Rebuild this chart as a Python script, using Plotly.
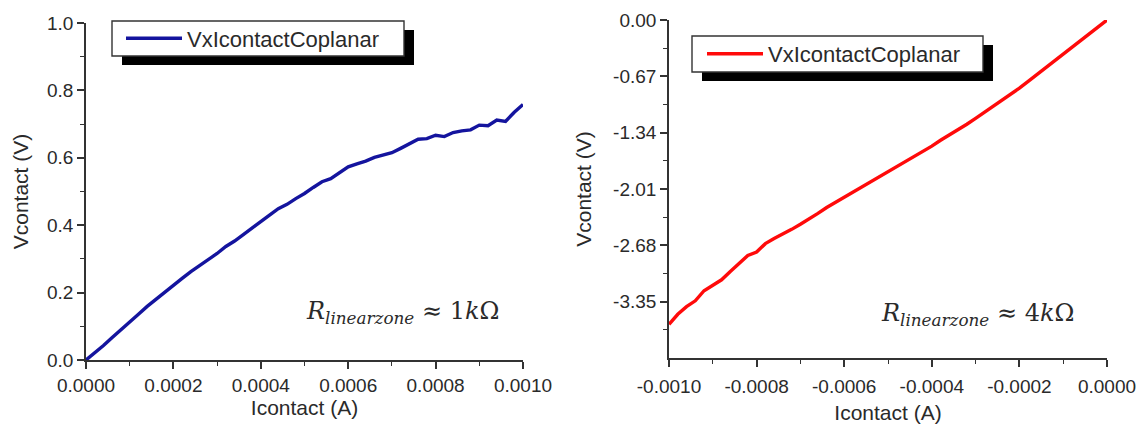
import plotly.graph_objects as go

# ---------------- data ----------------
left_current = [0.00000, 0.00002, 0.00004, 0.00006, 0.00008, 0.00010, 0.00012, 0.00014, 0.00016, 0.00018,
                0.00020, 0.00022, 0.00024, 0.00026, 0.00028, 0.00030, 0.00032, 0.00034, 0.00036, 0.00038,
                0.00040, 0.00042, 0.00044, 0.00046, 0.00048, 0.00050, 0.00052, 0.00054, 0.00056, 0.00058,
                0.00060, 0.00062, 0.00064, 0.00066, 0.00068, 0.00070, 0.00072, 0.00074, 0.00076, 0.00078,
                0.00080, 0.00082, 0.00084, 0.00086, 0.00088, 0.00090, 0.00092, 0.00094, 0.00096, 0.00098,
                0.00100]
left_voltage = [0.000, 0.020, 0.043, 0.067, 0.091, 0.114, 0.136, 0.159, 0.180, 0.203,
                0.222, 0.242, 0.262, 0.279, 0.299, 0.316, 0.337, 0.353, 0.372, 0.392,
                0.413, 0.430, 0.449, 0.462, 0.479, 0.494, 0.512, 0.529, 0.538, 0.556,
                0.573, 0.582, 0.590, 0.601, 0.607, 0.615, 0.628, 0.641, 0.655, 0.657,
                0.667, 0.663, 0.675, 0.680, 0.683, 0.697, 0.695, 0.712, 0.708, 0.735,
                0.758]

right_current = [-0.00100, -0.00098, -0.00096, -0.00094, -0.00092, -0.00090, -0.00088, -0.00086, -0.00084, -0.00082,
                 -0.00080, -0.00078, -0.00076, -0.00074, -0.00072, -0.00070, -0.00068, -0.00066, -0.00064, -0.00062,
                 -0.00060, -0.00058, -0.00056, -0.00054, -0.00052, -0.00050, -0.00048, -0.00046, -0.00044, -0.00042,
                 -0.00040, -0.00038, -0.00036, -0.00034, -0.00032, -0.00030, -0.00028, -0.00026, -0.00024, -0.00022,
                 -0.00020, -0.00018, -0.00016, -0.00014, -0.00012, -0.00010, -0.00008, -0.00006, -0.00004, -0.00002,
                 0.00000]
right_voltage = [-3.62, -3.50, -3.41, -3.34, -3.22, -3.16, -3.09, -2.99, -2.90, -2.80,
                 -2.76, -2.66, -2.60, -2.55, -2.49, -2.43, -2.37, -2.30, -2.23, -2.17,
                 -2.10, -2.04, -1.98, -1.93, -1.86, -1.80, -1.74, -1.68, -1.62, -1.56,
                 -1.50, -1.43, -1.37, -1.30, -1.24, -1.17, -1.10, -1.03, -0.96, -0.88,
                 -0.81, -0.73, -0.65, -0.57, -0.49, -0.40, -0.32, -0.24, -0.16, -0.08,
                 0.00]

series_name = "VxIcontactCoplanar"

left_xticks = [0.0, 0.0002, 0.0004, 0.0006, 0.0008, 0.0010]
left_xlabels = ["0.0000", "0.0002", "0.0004", "0.0006", "0.0008", "0.0010"]
left_xminor = [0.0001, 0.0003, 0.0005, 0.0007, 0.0009]
left_yticks = [0.0, 0.2, 0.4, 0.6, 0.8, 1.0]
left_ylabels = ["0.0", "0.2", "0.4", "0.6", "0.8", "1.0"]
left_yminor = [0.1, 0.3, 0.5, 0.7, 0.9]

right_xticks = [-0.0010, -0.0008, -0.0006, -0.0004, -0.0002, 0.0]
right_xlabels = ["-0.0010", "-0.0008", "-0.0006", "-0.0004", "-0.0002", "0.0000"]
right_xminor = [-0.0009, -0.0007, -0.0005, -0.0003, -0.0001]
right_yticks = [0.00, -0.67, -1.34, -2.01, -2.68, -3.35]
right_ylabels = ["0.00", "-0.67", "-1.34", "-2.01", "-2.68", "-3.35"]
right_yminor = [-0.335, -1.005, -1.675, -2.345, -3.015, -3.685]

left_note = "<i>R</i><sub><i>linearzone</i></sub> \u2248 1<i>k</i>\u03a9"
right_note = "<i>R</i><sub><i>linearzone</i></sub> \u2248 4<i>k</i>\u03a9"

# ---------------- styling ----------------
W, H = 1142, 424
TXT = "#2a2a2a"
SANS = "Liberation Sans, Arial, sans-serif"
SERIF = "DejaVu Serif, serif"


def px(x):
    return x / W


def py(y):
    return 1 - y / H


fig = go.Figure()
fig.add_trace(go.Scatter(x=left_current, y=left_voltage, mode="lines", name=series_name,
                         line=dict(color="#14149e", width=3.4), xaxis="x", yaxis="y",
                         legend="legend"))
fig.add_trace(go.Scatter(x=right_current, y=right_voltage, mode="lines", name=series_name,
                         line=dict(color="#ff0a0a", width=3.4), xaxis="x2", yaxis="y2",
                         legend="legend2"))


def axis(domain, rng, tv, tt, minor_vals, title, standoff, anchor):
    return dict(
        domain=domain, range=rng, anchor=anchor, automargin=False,
        showgrid=False, zeroline=False,
        showline=True, linecolor="#333", linewidth=1.6, mirror=False,
        ticks="outside", ticklen=7, tickwidth=1.5, tickcolor="#333",
        tickmode="array", tickvals=tv, ticktext=tt,
        tickfont=dict(family=SANS, size=19, color=TXT),
        minor=dict(ticks="outside", ticklen=4, tickwidth=1.3, tickcolor="#333",
                   tickmode="array", tickvals=minor_vals, showgrid=False),
        title=dict(text=title, font=dict(family=SANS, size=21, color=TXT), standoff=standoff),
    )


lx0, lx1, ly0, ly1 = 86, 523, 360, 23
rx0, rx1, ry0, ry1 = 669, 1107, 358, 20

layout = dict(
    template="none",
    width=W, height=H, margin=dict(l=0, r=0, t=0, b=0, pad=0),
    paper_bgcolor="white", plot_bgcolor="white",
    xaxis=axis([px(lx0), px(lx1)], [0, 0.001], left_xticks, left_xlabels, left_xminor,
               "Icontact (A)", 4, "y"),
    yaxis=axis([py(ly0), py(ly1)], [0, 1.0], left_yticks, left_ylabels, left_yminor,
               "Vcontact (V)", 13, "x"),
    xaxis2=axis([px(rx0), px(rx1)], [-0.001, 0], right_xticks, right_xlabels, right_xminor,
                "Icontact (A)", 12, "y2"),
    yaxis2=axis([py(ry0), py(ry1)], [-4.02, 0], right_yticks, right_ylabels, right_yminor,
                "Vcontact (V)", 16, "x2"),
    showlegend=True,
)
layout["xaxis2"]["ticklabelstandoff"] = 3

# legend boxes (pixel positions), shadow offset
boxes = [(112, 21, 404, 56), (692, 36, 983, 72)]
shapes = []
for (x0, y0, x1, y1) in boxes:
    shapes.append(dict(type="rect", xref="paper", yref="paper", layer="above",
                       x0=px(x0 + 10), x1=px(x1 + 10), y0=py(y1 + 9), y1=py(y0 + 9),
                       fillcolor="black", line=dict(width=0)))
    shapes.append(dict(type="rect", xref="paper", yref="paper", layer="above",
                       x0=px(x0), x1=px(x1), y0=py(y1), y1=py(y0),
                       fillcolor="white", line=dict(color="#333", width=1.4)))
layout["shapes"] = shapes

leg_common = dict(bgcolor="rgba(0,0,0,0)", borderwidth=0, xanchor="left", yanchor="middle",
                  font=dict(family=SANS, size=22, color=TXT), itemwidth=56,
                  itemclick=False, itemdoubleclick=False)
layout["legend"] = dict(x=px(121), y=py((boxes[0][1] + boxes[0][3]) / 2), **leg_common)
layout["legend2"] = dict(x=px(702), y=py((boxes[1][1] + boxes[1][3]) / 2), **leg_common)

layout["annotations"] = [
    dict(text=left_note, xref="paper", yref="paper", x=px(402), y=py(312),
         xanchor="center", yanchor="middle", showarrow=False,
         font=dict(family=SERIF, size=24, color=TXT)),
    dict(text=right_note, xref="paper", yref="paper", x=px(977), y=py(314),
         xanchor="center", yanchor="middle", showarrow=False,
         font=dict(family=SERIF, size=24, color=TXT)),
]

fig.update_layout(**layout)
fig.write_html("out.html")
